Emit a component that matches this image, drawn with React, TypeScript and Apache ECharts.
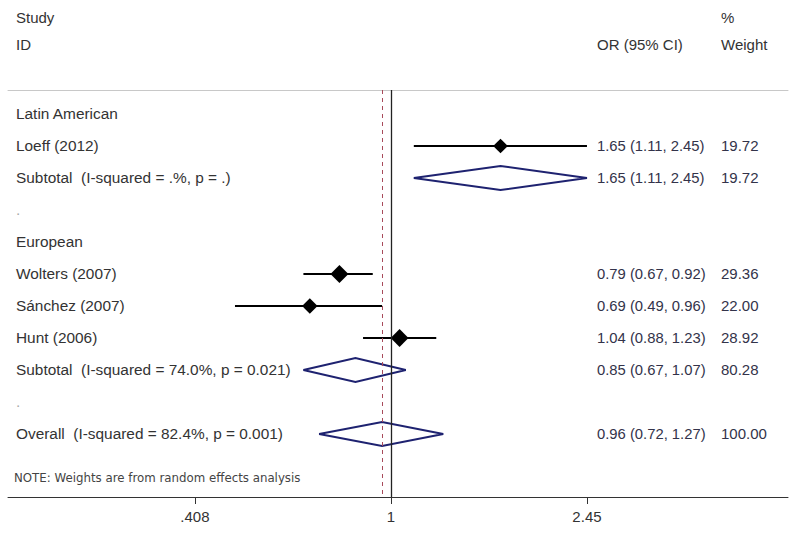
import React, { useEffect, useRef } from "react";
import * as echarts from "echarts";

// ---- data ----
const rowLabels = [
  "Latin American",
  "Loeff (2012)",
  "Subtotal  (I-squared = .%, p = .)",
  ".",
  "European",
  "Wolters (2007)",
  "Sánchez (2007)",
  "Hunt (2006)",
  "Subtotal  (I-squared = 74.0%, p = 0.021)",
  ".",
  "Overall  (I-squared = 82.4%, p = 0.001)",
];

const studyRows = [1, 5, 6, 7];
const studyOR = [1.65, 0.79, 0.69, 1.04];
const studyLo = [1.11, 0.67, 0.49, 0.88];
const studyHi = [2.45, 0.92, 0.96, 1.23];
const studyWeight = [19.72, 29.36, 22.0, 28.92];

const pooledRows = [2, 8, 10];
const pooledOR = [1.65, 0.85, 0.96];
const pooledLo = [1.11, 0.67, 0.72];
const pooledHi = [2.45, 1.07, 1.27];
const pooledWeight = [19.72, 80.28, 100.0];

const xTicks = [0.408, 1, 2.45];
const xTickLabels = [".408", "1", "2.45"];
const overallOR = 0.96;
const nullValue = 1;

const FONT = "Liberation Sans, Arial, sans-serif";
const TEXT = "#333333";
const NUM = "#33334a";
const NAVY = "#1e2270";

export default function App() {
  const ref = useRef<HTMLDivElement>(null);

  useEffect(() => {
    document.body.style.margin = "0";
    if (!ref.current) return;
    const chart = echarts.init(ref.current, null, { renderer: "svg" });

    const studyData = studyRows.map((r, i) => [studyOR[i], r, studyLo[i], studyHi[i], studyWeight[i]]);
    const pooledData = pooledRows.map((r, i) => [pooledOR[i], r, pooledLo[i], pooledHi[i], pooledWeight[i]]);
    const labelData = rowLabels.map((t, i) => [1, i]);
    const numData = [
      ...studyRows.map((r, i) => ({
        row: r,
        ci: `${studyOR[i].toFixed(2)} (${studyLo[i].toFixed(2)}, ${studyHi[i].toFixed(2)})`,
        w: studyWeight[i].toFixed(2),
      })),
      ...pooledRows.map((r, i) => ({
        row: r,
        ci: `${pooledOR[i].toFixed(2)} (${pooledLo[i].toFixed(2)}, ${pooledHi[i].toFixed(2)})`,
        w: pooledWeight[i].toFixed(2),
      })),
    ];

    const option: any = {
      animation: false,
      grid: { left: 8, right: 12, top: 90, bottom: 37 },
      xAxis: [
        {
          type: "log",
          logBase: Math.E,
          min: 0.17356,
          max: 6.143,
          position: "bottom",
          axisLine: { show: true, onZero: false, lineStyle: { color: "#333333", width: 1 } },
          axisTick: { show: true, customValues: xTicks, length: 7, lineStyle: { color: "#333333", width: 1 } },
          axisLabel: {
            show: true,
            customValues: xTicks,
            margin: 12,
            fontSize: 15,
            fontFamily: FONT,
            color: TEXT,
            formatter: (v: number) => {
              const idx = xTicks.findIndex((t) => Math.abs(t - v) / t < 1e-3);
              return idx >= 0 ? xTickLabels[idx] : "";
            },
          },
          splitLine: { show: false },
        },
        {
          type: "value",
          position: "top",
          min: 0,
          max: 1,
          axisLine: { show: true, onZero: false, lineStyle: { color: "#c8c8c8", width: 1 } },
          axisTick: { show: false },
          axisLabel: { show: false },
          splitLine: { show: false },
        },
      ],
      yAxis: {
        type: "value",
        inverse: true,
        min: -0.75,
        max: 11.97,
        show: false,
      },
      graphic: [
        { type: "text", left: 16, top: 10, style: { text: "Study", font: `15px ${FONT}`, fill: TEXT } },
        { type: "text", left: 16, top: 37, style: { text: "ID", font: `15px ${FONT}`, fill: TEXT } },
        { type: "text", left: 721, top: 10, style: { text: "%", font: `15px ${FONT}`, fill: TEXT } },
        { type: "text", left: 597, top: 37, style: { text: "OR (95% CI)", font: `15px ${FONT}`, fill: TEXT } },
        { type: "text", left: 721, top: 37, style: { text: "Weight", font: `15px ${FONT}`, fill: TEXT } },
        {
          type: "text",
          left: 14,
          top: 472,
          style: { text: "NOTE: Weights are from random effects analysis", font: `11.8px DejaVu Sans, sans-serif`, fill: "#444444" },
        },
      ],
      series: [
        {
          type: "scatter",
          data: [],
          silent: true,
          markLine: {
            silent: true,
            symbol: ["none", "none"],
            label: { show: false },
            data: [
              { xAxis: overallOR, lineStyle: { color: "#a84a5a", width: 1, type: [4, 4] } },
              { xAxis: nullValue, lineStyle: { color: "#222222", width: 1.3, type: "solid" } },
            ],
          },
        },
        {
          type: "custom",
          name: "labels",
          silent: true,
          data: labelData,
          encode: { x: 0, y: 1 },
          renderItem: (params: any, api: any) => {
            const i = params.dataIndex;
            const y = api.coord([1, i])[1];
            const t = rowLabels[i];
            return {
              type: "text",
              x: 16,
              y,
              style: {
                text: t,
                font: `15.4px ${FONT}`,
                fill: t === "." ? "#aaaaaa" : TEXT,
                verticalAlign: "middle",
                align: "left",
              },
            };
          },
        },
        {
          type: "custom",
          name: "numbers",
          silent: true,
          data: numData.map((d) => [1, d.row]),
          encode: { x: 0, y: 1 },
          renderItem: (params: any, api: any) => {
            const d = numData[params.dataIndex];
            const y = api.coord([1, d.row])[1];
            return {
              type: "group",
              children: [
                { type: "text", x: 597, y, style: { text: d.ci, font: `14.8px ${FONT}`, fill: NUM, verticalAlign: "middle" } },
                { type: "text", x: 721, y, style: { text: d.w, font: `15px ${FONT}`, fill: NUM, verticalAlign: "middle" } },
              ],
            };
          },
        },
        {
          type: "custom",
          name: "pooled",
          silent: true,
          z: 3,
          data: pooledData,
          encode: { x: 0, y: 1 },
          renderItem: (params: any, api: any) => {
            const or = api.value(0);
            const row = api.value(1);
            const lo = api.value(2);
            const hi = api.value(3);
            const c = api.coord([or, row]);
            const l = api.coord([lo, row]);
            const h = api.coord([hi, row]);
            const hh = 12;
            return {
              type: "polygon",
              shape: { points: [[l[0], c[1]], [c[0], c[1] - hh], [h[0], c[1]], [c[0], c[1] + hh]] },
              style: { fill: "none", stroke: NAVY, lineWidth: 2 },
            };
          },
        },
        {
          type: "custom",
          name: "studies",
          silent: true,
          z: 4,
          data: studyData,
          encode: { x: 0, y: 1 },
          renderItem: (params: any, api: any) => {
            const or = api.value(0);
            const row = api.value(1);
            const lo = api.value(2);
            const hi = api.value(3);
            const w = api.value(4);
            const c = api.coord([or, row]);
            const l = api.coord([lo, row]);
            const h = api.coord([hi, row]);
            const s = 4 + w * 0.17;
            return {
              type: "group",
              children: [
                { type: "line", shape: { x1: l[0], y1: c[1], x2: h[0], y2: c[1] }, style: { stroke: "#000000", lineWidth: 2 } },
                {
                  type: "polygon",
                  shape: { points: [[c[0] - s, c[1]], [c[0], c[1] - s], [c[0] + s, c[1]], [c[0], c[1] + s]] },
                  style: { fill: "#000000", stroke: "none" },
                },
              ],
            };
          },
        },
      ],
    };

    chart.setOption(option);
    return () => chart.dispose();
  }, []);

  return <div ref={ref} style={{ width: 800, height: 534, background: "#ffffff" }} />;
}
